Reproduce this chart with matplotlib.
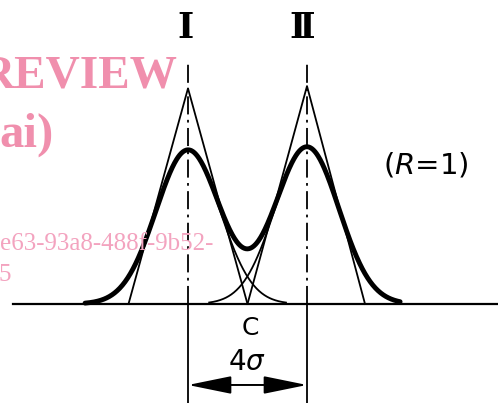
import numpy as np
import matplotlib
matplotlib.use("Agg")
import matplotlib.pyplot as plt

# two peaks, separation 4 sigma (x in sigma units, y in peak heights)
centers = [0.0, 4.0]
heights = [1.0, 1.02]
sigma = 1.075
curve_range = [-3.46, 7.13]

# tangent triangles: (left foot, apex, right foot)
tri_x = [[-2.0, 0.0, 2.0], [2.0, 4.0, 5.95]]
tri_y = [[0.0, 1.40, 0.0], [0.0, 1.415, 0.0]]

peak_labels = ["\u2160", "\u2161"]
peak_label_x = [-0.07, 3.85]

fig = plt.figure(figsize=(4.98, 4.03), dpi=100)
ax = fig.add_axes([0, 0, 1, 1])
ax.set_xlim(-6.319, 10.42)
ax.set_ylim(-0.643, 1.974)
ax.axis("off")

# watermark
pink = "#f08fad"
ax.text(-0.37, 1.403, "REVIEW", color=pink, fontsize=34, fontweight="bold",
        family="Liberation Serif", ha="right", va="baseline")
ax.text(-4.50, 1.02, "ai)", color=pink, fontsize=35, fontweight="bold",
        family="Liberation Serif", ha="right", va="baseline")
ax.text(0.84, 0.35, "e63-93a8-488f-9b52-", color="#f3a3bf", fontsize=18,
        family="Liberation Serif", ha="right", va="baseline")
ax.text(-5.95, 0.15, "5", color="#f3a3bf", fontsize=18,
        family="Liberation Serif", ha="right", va="baseline")

# baseline
ax.plot([-5.88, 10.42], [0, 0], color="k", lw=1.6)

x = np.linspace(curve_range[0], curve_range[1], 600)
total = np.zeros_like(x)
for c, h in zip(centers, heights):
    g = h * np.exp(-0.5 * ((x - c) / sigma) ** 2)
    total += g
    m = np.abs(x - c) < 3.3
    ax.plot(x[m], g[m], color="k", lw=1.3)

ax.plot(x, total, color="k", lw=3.5, solid_capstyle="round")

for tx, ty in zip(tri_x, tri_y):
    ax.plot(tx, ty, color="k", lw=1.3)

# centre lines: dash-dot above baseline, solid extension below
for c in centers:
    ax.plot([c, c], [0, 1.584], color="k", lw=1.3, dashes=(10, 3, 1.5, 3))
    ax.plot([c, c], [0, -0.643], color="k", lw=1.3)

for lab, lx in zip(peak_labels, peak_label_x):
    ax.text(lx, 1.79, lab, fontsize=25, ha="center", va="center",
            family="DejaVu Serif", fontweight="bold")

ax.text(8.0, 0.90, "($R$=1)", fontsize=21, ha="center", va="center")
ax.text(2.08, -0.156, "C", fontsize=18, ha="center", va="center")
ax.text(1.98, -0.377, r"4$\sigma$", fontsize=20, ha="center", va="center")

ax.annotate("", xy=(centers[0], -0.526), xytext=(centers[1], -0.526),
            arrowprops=dict(arrowstyle="<|-|>,head_length=2.7,head_width=0.55",
                            color="k", lw=1.4, shrinkA=0, shrinkB=0,
                            mutation_scale=10))

fig.savefig("out.png", dpi=100)
